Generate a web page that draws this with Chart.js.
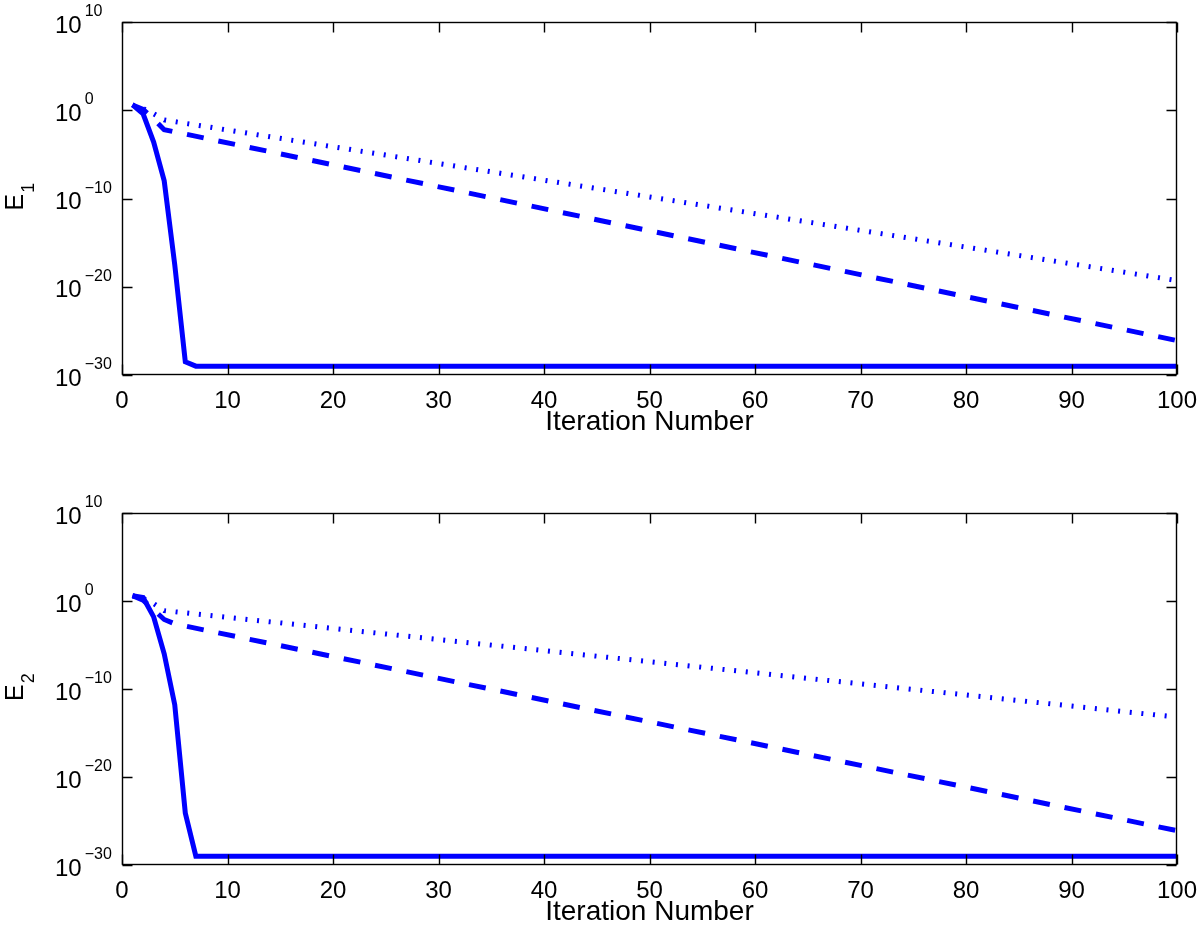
<!DOCTYPE html>
<html>
<head>
<meta charset="utf-8">
<script src="https://cdn.jsdelivr.net/npm/chart.js@4.4.0/dist/chart.umd.min.js"></script>
<style>
  html, body { margin: 0; padding: 0; background: #fff; }
  .panel { position: absolute; left: 0; width: 1200px; }
  #panelTop { top: 0; height: 468px; }
  #panelBottom { top: 468px; height: 469px; }
</style>
</head>
<body>
<div class="panel" id="panelTop"><canvas id="chartE1"></canvas></div>
<div class="panel" id="panelBottom"><canvas id="chartE2"></canvas></div>
<script>
// ==================== DATA ====================
// iteration number -> log10(error), vertices
const xTicks = [0, 10, 20, 30, 40, 50, 60, 70, 80, 90, 100];
const yTicks = [1e-30, 1e-20, 1e-10, 1e0, 1e10];
const yTickExp = ['\u221230', '\u221220', '\u221210', '0', '10'];

// E1 panel
const e1SolidIter = [1, 2, 3, 4, 5, 6, 7, 100];
const e1SolidLog  = [0.6, -0.4, -3.6, -8.0, -17.5, -28.5, -29, -29];
const e1DashIter  = [1, 2, 3, 4, 100];
const e1DashLog   = [0.6, 0.1, -1.0, -2.2, -26.1];
const e1DotIter   = [1, 2, 3, 4, 100];
const e1DotLog    = [0.6, 0.2, -0.4, -1.1, -19.3];

// E2 panel
const e2SolidIter = [1, 2, 3, 4, 5, 6, 7, 100];
const e2SolidLog  = [0.6, 0.4, -1.8, -6.0, -11.8, -24.1, -29, -29];
const e2DashIter  = [1, 2, 3, 4, 5, 100];
const e2DashLog   = [0.6, 0.1, -1.0, -2.1, -2.6, -26.1];
const e2DotIter   = [1, 2, 3, 4, 100];
const e2DotLog    = [0.6, 0.3, -0.3, -1.1, -13.2];

// ==================== STYLE ====================
const FONT = '"Liberation Sans", Arial, Helvetica, sans-serif';
const BLUE = '#0000ff';

function toPoints(iters, logs) {
    return iters.map((x, i) => ({ x: x, y: Math.pow(10, logs[i]) }));
}

function series(iters, logs, width, dash) {
    return {
        data: toPoints(iters, logs),
        borderColor: BLUE,
        borderWidth: width,
        borderDash: dash,
        borderCapStyle: 'butt',
        borderJoinStyle: 'miter',
        pointRadius: 0,
        tension: 0,
        fill: false
    };
}

// frame, inward ticks, superscript y labels and subscripted y title
const matlabAxes = {
    id: 'matlabAxes',
    afterDraw(chart, args, opts) {
        const ctx = chart.ctx;
        const a = chart.chartArea;
        const xs = chart.scales.x, ys = chart.scales.y;
        const L = Math.round(a.left) + 0.5, R = Math.round(a.right) - 0.5;
        const T = Math.round(a.top) + 0.5, B = Math.round(a.bottom) - 0.5;
        const tl = 10;
        ctx.save();
        ctx.strokeStyle = '#000';
        ctx.lineWidth = 1.4;
        ctx.strokeRect(L, T, R - L, B - T);
        ctx.beginPath();
        xTicks.forEach(v => {
            const px = Math.round(xs.getPixelForValue(v)) + 0.5;
            ctx.moveTo(px, B); ctx.lineTo(px, B - tl);
            ctx.moveTo(px, T); ctx.lineTo(px, T + tl);
        });
        yTicks.forEach(v => {
            const py = Math.round(ys.getPixelForValue(v)) + 0.5;
            ctx.moveTo(L, py); ctx.lineTo(L + tl, py);
            ctx.moveTo(R, py); ctx.lineTo(R - tl, py);
        });
        ctx.stroke();

        // y tick labels: 10 with exponent
        ctx.fillStyle = '#000';
        ctx.textAlign = 'left';
        ctx.textBaseline = 'alphabetic';
        yTicks.forEach((v, i) => {
            const py = ys.getPixelForValue(v);
            ctx.font = '24px ' + FONT;
            ctx.fillText('10', 55, py + 10.5);
            const w = ctx.measureText('10').width;
            ctx.font = '16px ' + FONT;
            ctx.fillText(yTickExp[i], 55 + w + 3, py - 6);
        });

        // y title, rotated, with subscript
        const cy = (a.top + a.bottom) / 2;
        ctx.save();
        ctx.translate(23, cy + 12);
        ctx.rotate(-Math.PI / 2);
        ctx.font = '25px ' + FONT;
        ctx.fillText('E', 0, 0);
        const ew = ctx.measureText('E').width;
        ctx.font = '18px ' + FONT;
        ctx.fillText(opts.sub, ew + 1, 11);
        ctx.restore();
        ctx.restore();
    }
};

function makeChart(canvasId, sub, datasets, padTop, axisHeight, titlePad) {
    return new Chart(document.getElementById(canvasId), {
        type: 'line',
        data: { datasets: datasets },
        options: {
            responsive: true,
            maintainAspectRatio: false,
            animation: false,
            layout: { autoPadding: false, padding: { top: padTop, right: 23, left: 0, bottom: 0 } },
            plugins: {
                legend: { display: false },
                tooltip: { enabled: false },
                matlabAxes: { sub: sub }
            },
            scales: {
                x: {
                    type: 'linear',
                    min: 0,
                    max: 100,
                    afterBuildTicks: s => { s.ticks = xTicks.map(v => ({ value: v })); },
                    afterFit: s => {
                        s.height = axisHeight;
                        s.paddingLeft = 0;
                        s.paddingRight = 0;
                    },
                    grid: { display: false, drawTicks: false },
                    border: { display: false },
                    ticks: {
                        color: '#000',
                        font: { family: FONT, size: 24 },
                        padding: 12,
                        maxRotation: 0,
                        autoSkip: false
                    },
                    title: {
                        display: true,
                        text: 'Iteration Number',
                        color: '#000',
                        font: { family: FONT, size: 28 },
                        padding: { top: 0, bottom: titlePad }
                    }
                },
                y: {
                    type: 'logarithmic',
                    min: 1e-30,
                    max: 1e10,
                    afterBuildTicks: s => { s.ticks = yTicks.map(v => ({ value: v })); },
                    afterFit: s => {
                        s.width = 122;
                        s.paddingTop = 0;
                        s.paddingBottom = 0;
                    },
                    grid: { display: false },
                    border: { display: false },
                    ticks: { display: false }
                }
            }
        },
        plugins: [matlabAxes]
    });
}

makeChart('chartE1', '1', [
    series(e1SolidIter, e1SolidLog, 5, []),
    series(e1DashIter, e1DashLog, 5, [17, 15]),
    series(e1DotIter, e1DotLog, 5, [2, 9.7])
], 22, 93, 29);

makeChart('chartE2', '2', [
    series(e2SolidIter, e2SolidLog, 5, []),
    series(e2DashIter, e2DashLog, 5, [17, 15]),
    series(e2DotIter, e2DotLog, 5, [2, 9.7])
], 45, 72, 8);
</script>
</body>
</html>
